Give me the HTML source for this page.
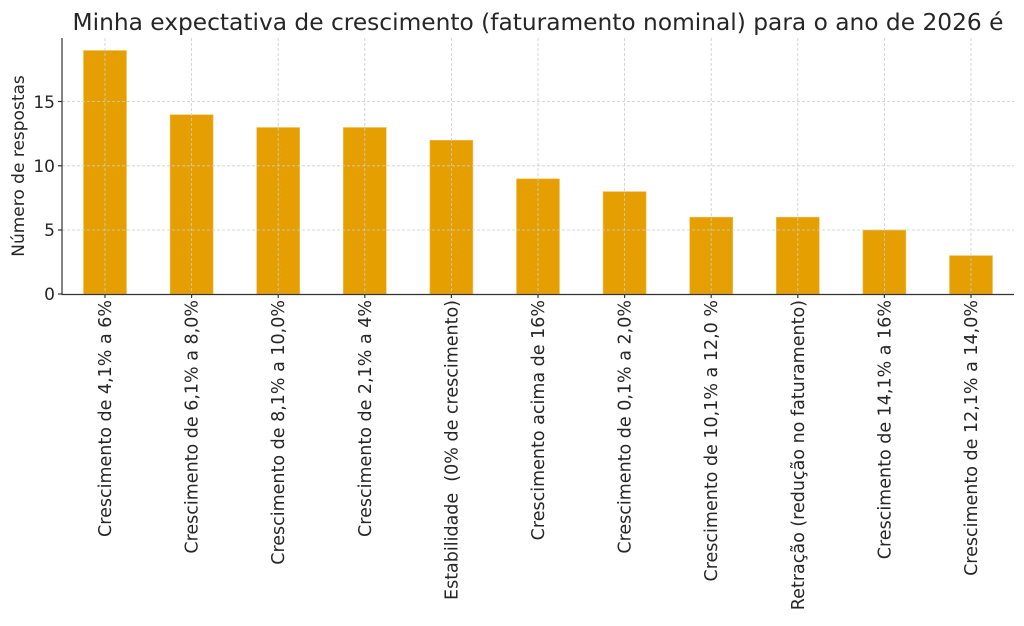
<!DOCTYPE html>
<html><head><meta charset="utf-8"><style>body{margin:0;background:#fff}svg{display:block}text{font-family:"DejaVu Sans","Liberation Sans",sans-serif;fill:#262626}</style></head>
<body>
<svg width="1024" height="626" viewBox="0 0 1024 626" xmlns="http://www.w3.org/2000/svg">
<rect width="1024" height="626" fill="#fff"/>
<text x="538" y="30" font-size="23.3" text-anchor="middle" fill="#333">Minha expectativa de crescimento (faturamento nominal) para o ano de 2026 é</text>
<g fill="#E69F00" stroke="#f0c060" stroke-width="0.6">
<rect x="83.5" y="50.5" width="43" height="243.5"/>
<rect x="170.1" y="114.7" width="43" height="179.3"/>
<rect x="256.7" y="127.5" width="43" height="166.5"/>
<rect x="343.3" y="127.5" width="43" height="166.5"/>
<rect x="429.9" y="140.3" width="43" height="153.7"/>
<rect x="516.5" y="178.8" width="43" height="115.2"/>
<rect x="603.1" y="191.6" width="43" height="102.4"/>
<rect x="689.7" y="217.2" width="43" height="76.8"/>
<rect x="776.3" y="217.2" width="43" height="76.8"/>
<rect x="862.9" y="230" width="43" height="64"/>
<rect x="949.5" y="255.6" width="43" height="38.4"/>
</g>
<g stroke="#ccc" stroke-width="0.8" stroke-dasharray="3,2">
<line x1="62" x2="1014" y1="101.5" y2="101.5"/>
<line x1="62" x2="1014" y1="165.8" y2="165.8"/>
<line x1="62" x2="1014" y1="230" y2="230"/>
<line x1="105" x2="105" y1="38" y2="294"/><line x1="191.6" x2="191.6" y1="38" y2="294"/><line x1="278.2" x2="278.2" y1="38" y2="294"/><line x1="364.8" x2="364.8" y1="38" y2="294"/><line x1="451.4" x2="451.4" y1="38" y2="294"/><line x1="538" x2="538" y1="38" y2="294"/><line x1="624.6" x2="624.6" y1="38" y2="294"/><line x1="711.2" x2="711.2" y1="38" y2="294"/><line x1="797.8" x2="797.8" y1="38" y2="294"/><line x1="884.4" x2="884.4" y1="38" y2="294"/><line x1="971" x2="971" y1="38" y2="294"/>
</g>
<g stroke="#333" stroke-width="1.2">
<line x1="62" x2="62" y1="38" y2="294.5"/>
<line x1="61.5" x2="1014" y1="294.5" y2="294.5"/>
<line x1="58" x2="62" y1="101.5" y2="101.5"/><line x1="58" x2="62" y1="165.8" y2="165.8"/><line x1="58" x2="62" y1="230" y2="230"/><line x1="58" x2="62" y1="294" y2="294"/>
<line x1="105" x2="105" y1="294" y2="298"/><line x1="191.6" x2="191.6" y1="294" y2="298"/><line x1="278.2" x2="278.2" y1="294" y2="298"/><line x1="364.8" x2="364.8" y1="294" y2="298"/><line x1="451.4" x2="451.4" y1="294" y2="298"/><line x1="538" x2="538" y1="294" y2="298"/><line x1="624.6" x2="624.6" y1="294" y2="298"/><line x1="711.2" x2="711.2" y1="294" y2="298"/><line x1="797.8" x2="797.8" y1="294" y2="298"/><line x1="884.4" x2="884.4" y1="294" y2="298"/><line x1="971" x2="971" y1="294" y2="298"/>
</g>
<g font-size="17" text-anchor="end">
<text x="55" y="108">15</text><text x="55" y="172">10</text><text x="55" y="236">5</text><text x="55" y="300">0</text>
</g>
<text transform="translate(24,166) rotate(-90)" font-size="17" text-anchor="middle">Número de respostas</text>
<g font-size="17.5" text-anchor="end">
<text transform="translate(111,300) rotate(-90)">Crescimento de 4,1% a 6%</text>
<text transform="translate(197.6,300) rotate(-90)">Crescimento de 6,1% a 8,0%</text>
<text transform="translate(284.2,300) rotate(-90)">Crescimento de 8,1% a 10,0%</text>
<text transform="translate(370.8,300) rotate(-90)">Crescimento de 2,1% a 4%</text>
<text transform="translate(457.4,300) rotate(-90)" xml:space="preserve">Estabilidade  (0% de crescimento)</text>
<text transform="translate(544,300) rotate(-90)">Crescimento acima de 16%</text>
<text transform="translate(630.6,300) rotate(-90)">Crescimento de 0,1% a 2,0%</text>
<text transform="translate(717.2,300) rotate(-90)">Crescimento de 10,1% a 12,0 %</text>
<text transform="translate(803.8,300) rotate(-90)">Retração (redução no faturamento)</text>
<text transform="translate(890.4,300) rotate(-90)">Crescimento de 14,1% a 16%</text>
<text transform="translate(977,300) rotate(-90)">Crescimento de 12,1% a 14,0%</text>
</g>
</svg>
</body></html>
